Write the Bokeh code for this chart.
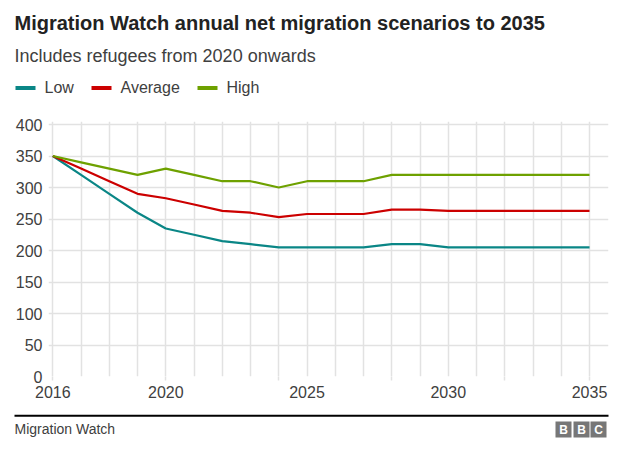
from bokeh.plotting import figure
from bokeh.layouts import column
from bokeh.models import Range1d, FixedTicker, Label, BoxAnnotation
from bokeh.embed import file_html
from bokeh.resources import INLINE

# ---- data ----
years = list(range(2016, 2036))
low = [350, 320, 290, 260, 235, 225, 215, 210, 205, 205,
       205, 205, 210, 210, 205, 205, 205, 205, 205, 205]
average = [350, 330, 310, 290, 283, 273, 263, 260, 253, 258,
           258, 258, 265, 265, 263, 263, 263, 263, 263, 263]
high = [350, 340, 330, 320, 330, 320, 310, 310, 300, 310,
        310, 310, 320, 320, 320, 320, 320, 320, 320, 320]
x_labels = [2016, 2020, 2025, 2030, 2035]
x_minor = [2016, 2020, 2024, 2028, 2032, 2035]
y_ticks = list(range(0, 401, 50))
series_names = ["Low", "Average", "High"]
colors = ["#0a8686", "#cc0000", "#6ea100"]

title = "Migration Watch annual net migration scenarios to 2035"
subtitle = "Includes refugees from 2020 onwards"
source = "Migration Watch"

FONT = "Liberation Sans"
TXT = "#404040"
GRID = "#e2e2e2"
W = 624


def blank(h):
    f = figure(width=W, height=h, output_backend="svg", toolbar_location=None,
               title=None,
               x_range=Range1d(0, W), y_range=Range1d(h, 0),
               x_axis_type=None, y_axis_type=None,
               min_border=0, min_border_left=0, min_border_right=0,
               min_border_top=0, min_border_bottom=0, frame_align=False)
    f.outline_line_color = None
    f.background_fill_color = "white"
    f.border_fill_color = "white"
    return f


def box(f, l, r, t, b, col):
    f.add_layout(BoxAnnotation(left=l, right=r, top=t, bottom=b,
                               fill_color=col, fill_alpha=1, line_color=None))


def text(f, x, y, s, size, color=TXT, style="normal", align="left"):
    f.add_layout(Label(x=x, y=y, text=s, text_font=FONT, text_font_size=size,
                       text_font_style=style, text_color=color, text_align=align,
                       text_baseline="middle"))


# ---- header ----
head = blank(100)
text(head, 14, 22.7, title, "20px", color="#222222", style="bold")
text(head, 14, 55.7, subtitle, "18px")
leg_x = [15, 91, 197]
for name, col, lx in zip(series_names, colors, leg_x):
    box(head, lx, lx + 20, 85.5, 89.5, col)
    text(head, lx + 29, 87.4, name, "16px")

# ---- main chart ----
p = figure(width=W, height=305, output_backend="svg", toolbar_location=None,
           title=None,
           x_range=Range1d(2015.848, 2035.672), y_range=Range1d(0, 404.8),
           min_border_left=48, min_border_right=16, min_border_top=21,
           min_border_bottom=29, frame_align=False)
p.outline_line_color = None
p.background_fill_color = "white"
p.border_fill_color = "white"

for vals, col in zip([low, average, high], colors):
    p.line(years, vals, line_color=col, line_width=2.2)

xa = p.xaxis[0]
xa.ticker = FixedTicker(ticks=x_labels, minor_ticks=x_minor)
xa.axis_line_color = None
xa.major_tick_out = 0
xa.major_tick_in = 0
xa.minor_tick_out = 4
xa.minor_tick_in = 0
xa.minor_tick_line_color = GRID
xa.minor_tick_line_width = 1.5
xa.major_label_standoff = 5
xa.major_label_text_font = FONT
xa.major_label_text_font_size = "16px"
xa.major_label_text_color = TXT

ya = p.yaxis[0]
ya.ticker = FixedTicker(ticks=y_ticks)
ya.axis_line_color = None
ya.major_tick_out = 0
ya.major_tick_in = 0
ya.minor_tick_line_color = None
ya.major_label_standoff = 6
ya.major_label_text_font = FONT
ya.major_label_text_font_size = "16px"
ya.major_label_text_color = TXT

p.xgrid.ticker = FixedTicker(ticks=years)
p.ygrid.ticker = FixedTicker(ticks=y_ticks)
for g in (p.xgrid[0], p.ygrid[0]):
    g.grid_line_color = GRID
    g.grid_line_width = 1.5

# ---- footer ----
foot = blank(49)
box(foot, 14, 608, 9.3, 11.3, "#000000")
text(foot, 14, 23.7, source, "14px")
for lx, letter in zip([555, 573, 590], "BBC"):
    box(foot, lx, lx + 16, 16, 32, "#777777")
    text(foot, lx + 8, 24.5, letter, "12px", color="white", style="bold", align="center")

layout = column(head, p, foot, spacing=0)
open("out.html", "w").write(file_html(layout, INLINE))
